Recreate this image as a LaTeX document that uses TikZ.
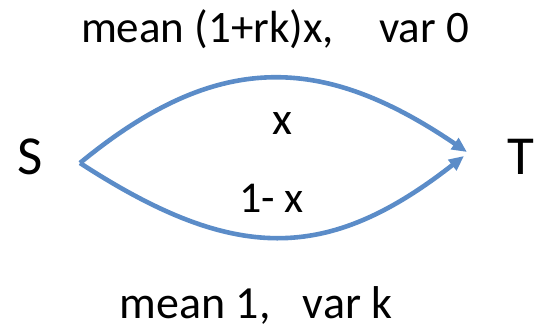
\documentclass[tikz,border=0pt]{standalone}
\usepackage{fontspec}
\setmainfont{Carlito}
\usepackage{xcolor}
\usepackage{tikz}
\usetikzlibrary{arrows.meta}
\definecolor{flowblue}{HTML}{5B8CC8}

\begin{document}
\begin{tikzpicture}[x=1pt, y=-1pt,
        lbl/.style={anchor=base, inner sep=0pt, text=black},
        arr/.style={-{Triangle[length=15pt,width=13pt]}, draw=flowblue, line width=4.6pt}]
        \useasboundingbox (0,0) rectangle (535,331);
        \node[lbl, font=\fontsize{55}{60}\selectfont] (S) at (30.5,175) {S};
        \node[lbl, font=\fontsize{55}{60}\selectfont] (T) at (521,175) {T};
        \node[lbl, font=\fontsize{45}{50}\selectfont] (top) at (275,43) {mean (1+rk)x,\hspace{1.0em}var 0};
        \node[lbl, font=\fontsize{46}{50}\selectfont] (bot) at (256,318) {mean 1,\hspace{0.7em}var k};
        \node[lbl, font=\fontsize{46}{50}\selectfont] (px) at (282,135) {x};
        \node[lbl, font=\fontsize{44}{48}\selectfont] (qx) at (271.5,212) {1- x};
        \coordinate (src) at (80,163);
        \coordinate (dst1) at (467,152);
        \coordinate (dst2) at (464,156);
        \draw[arr] (src) .. controls (215,52) and (320,52) .. (dst1);
        \draw[arr] (src) .. controls (234,263) and (327,263) .. (dst2);
      \end{tikzpicture}
\end{document}
